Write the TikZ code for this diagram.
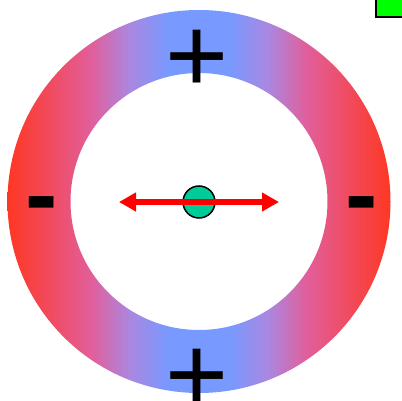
\documentclass[tikz,border=0pt]{standalone}
\usepackage{fontspec}
\setmainfont{Liberation Sans}
\usetikzlibrary{arrows.meta}
\definecolor{ringred}{RGB}{255,55,35}
\definecolor{ringpink}{RGB}{225,95,155}
\definecolor{ringlav}{RGB}{170,135,225}
\definecolor{ringblue}{RGB}{120,153,255}
\definecolor{dotteal}{RGB}{0,204,153}
\definecolor{boxgreen}{RGB}{0,255,0}
\definecolor{arrred}{RGB}{255,0,0}
\pgfdeclarehorizontalshading{ringshade}{100bp}{color(0bp)=(ringred); color(25bp)=(ringred); color(36bp)=(ringpink); color(41bp)=(ringlav); color(46bp)=(ringblue); color(54bp)=(ringblue); color(59bp)=(ringlav); color(64bp)=(ringpink); color(75bp)=(ringred); color(100bp)=(ringred)}
\tikzset{
  sign/.style={inner sep=0pt, outer sep=0pt, anchor=base, text=black},
  plussign/.style={sign, font=\fontsize{108}{108}\selectfont},
  minussign/.style={sign, font=\bfseries\fontsize{97}{97}\selectfont},
  dblarrow/.style={arrred, line width=6pt, {Triangle[length=17pt,width=18pt]}-{Triangle[length=17pt,width=18pt]}},
}
\begin{document}
\begin{tikzpicture}[x=1pt,y=-1pt]
\useasboundingbox (0,0) rectangle (402,401);
\coordinate (c) at (199,201.5);
\path[shading=ringshade, even odd rule] (c) circle [radius=191.5] (c) circle [radius=128.5];
\node (gbox) [draw=black, line width=2pt, fill=boxgreen, minimum width=34pt, minimum height=30pt, inner sep=0pt, anchor=south west] at (375,18) {};
\node (ptop) [plussign] at (197.5,92.6) {+};
\node (pbot) [plussign] at (197.5,411.5) {+};
\node (mleft) [minussign] at (42,228) {-};
\node (mright) [minussign] at (362,228) {-};
\node (dot) [circle, draw=black, line width=1.5pt, fill=dotteal, minimum size=32pt, inner sep=0pt] at (199,202) {};
\coordinate (al) at (119,202);
\coordinate (ar) at (279,202);
\draw[dblarrow] (al) -- (ar);
\end{tikzpicture}
\end{document}
